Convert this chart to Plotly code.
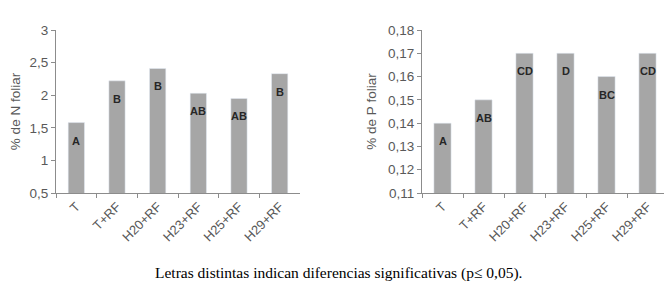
import plotly.graph_objects as go

categories = ["T", "T+RF", "H20+RF", "H23+RF", "H25+RF", "H29+RF"]
n_values = [1.58, 2.22, 2.41, 2.03, 1.95, 2.33]
n_letters = ["A", "B", "B", "AB", "AB", "B"]
p_values = [0.14, 0.15, 0.17, 0.17, 0.16, 0.17]
p_letters = ["A", "AB", "CD", "D", "BC", "CD"]
n_ticks = [0.5, 1, 1.5, 2, 2.5, 3]
n_ticktext = ["0,5", "1", "1,5", "2", "2,5", "3"]
p_ticks = [0.11, 0.12, 0.13, 0.14, 0.15, 0.16, 0.17, 0.18]
p_ticktext = ["0,11", "0,12", "0,13", "0,14", "0,15", "0,16", "0,17", "0,18"]
caption = "Letras distintas indican diferencias significativas (p\u2264 0,05)."

BAR = "#a6a6a6"
AXIS = "#8c8c8c"
TXT = "#595959"
FONT = "Liberation Sans, Arial, sans-serif"

# page body has an 8px margin: figure is sized/positioned to compensate
W, H, OFF = 664, 278, 8

def px_x(v):
    return (v - OFF) / W

def px_y(v):
    return 1 - (v - OFF) / H

fig = go.Figure()
fig.add_trace(go.Bar(x=categories, y=n_values, marker_color=BAR, width=0.4,
                     xaxis="x", yaxis="y", hoverinfo="skip"))
fig.add_trace(go.Bar(x=categories, y=p_values, marker_color=BAR, width=0.42,
                     xaxis="x2", yaxis="y2", hoverinfo="skip"))

for cat, v, t in zip(categories, n_values, n_letters):
    fig.add_annotation(x=cat, y=v, text="<b>%s</b>" % t, xref="x", yref="y",
                       showarrow=False, yshift=-18,
                       font=dict(family=FONT, size=11, color="#262626"))
for cat, v, t in zip(categories, p_values, p_letters):
    fig.add_annotation(x=cat, y=v, text="<b>%s</b>" % t, xref="x2", yref="y2",
                       showarrow=False, yshift=-18,
                       font=dict(family=FONT, size=11, color="#262626"))

fig.add_annotation(x=px_x(338), y=px_y(273), xref="paper", yref="paper",
                   yanchor="middle", xanchor="center",
                   text=caption, showarrow=False,
                   font=dict(family="Liberation Serif, Times New Roman, serif",
                             size=15.5, color="#000000"))

common_x = dict(showline=True, linecolor=AXIS, linewidth=1, ticks="outside",
                tickson="boundaries", ticklen=4, tickcolor=AXIS, tickangle=-45,
                tickfont=dict(family=FONT, size=13, color=TXT), showgrid=False,
                fixedrange=True, automargin=False)
common_y = dict(showline=True, linecolor=AXIS, linewidth=1, ticks="outside",
                ticklen=4, tickcolor=AXIS, showgrid=False, zeroline=False,
                tickfont=dict(family=FONT, size=13.5, color=TXT), fixedrange=True,
                automargin=False)

fig.update_layout(
    width=W, height=H,
    margin=dict(l=0, r=0, t=0, b=0),
    paper_bgcolor="white", plot_bgcolor="white",
    showlegend=False,
    xaxis=dict(domain=[px_x(56), px_x(300)], anchor="y", **common_x),
    yaxis=dict(domain=[px_y(193), px_y(30)], anchor="x", range=[0.5, 3],
               tickvals=n_ticks, ticktext=n_ticktext,
               title=dict(text="% de N foliar", standoff=8,
                          font=dict(family=FONT, size=13.5, color=TXT)),
               **common_y),
    xaxis2=dict(domain=[px_x(422), px_x(668)], anchor="y2", **common_x),
    yaxis2=dict(domain=[px_y(193), px_y(30)], anchor="x2", range=[0.11, 0.18],
                tickvals=p_ticks, ticktext=p_ticktext,
                title=dict(text="% de P foliar", standoff=8,
                           font=dict(family=FONT, size=13.5, color=TXT)),
                **common_y),
)

fig.write_html("out.html")
